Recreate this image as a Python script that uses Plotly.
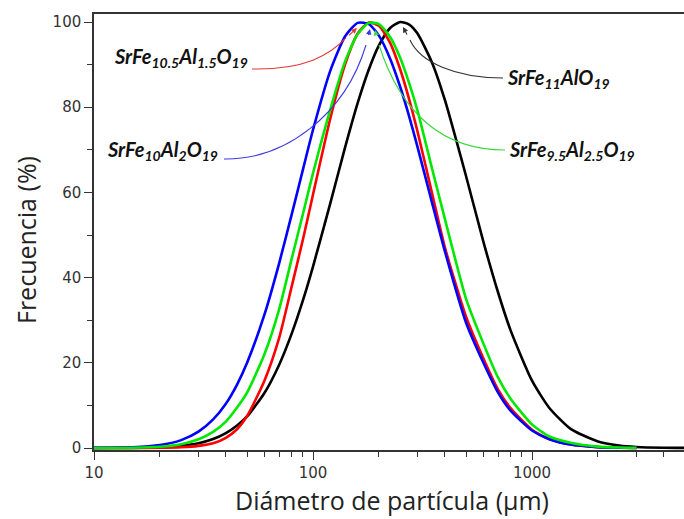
import plotly.graph_objects as go

# ---------------- data ----------------
diametro = [10, 15, 20, 25, 30, 35, 40, 45, 50, 60, 70, 80, 90, 100, 120, 140, 160, 180,
            200, 225, 250, 275, 300, 350, 400, 500, 600, 700, 800, 1000, 1200, 1500,
            2000, 2500, 3000, 4000, 5000]

frec_al1 = [0.0, 0.04, 0.17, 0.51, 1.12, 2.1, 3.5, 5.3, 7.4, 12.9, 19.5, 26.9, 34.7, 42.6,
            57.5, 70.5, 81.0, 88.9, 94.5, 98.6, 100.0, 99.4, 97.3, 90.4, 81.7, 63.8, 48.4,
            36.5, 27.5, 15.8, 9.4, 4.5, 1.53, 0.59, 0.25, 0.06, 0.015]          # SrFe11AlO19 (black)

frec_al15 = [0.0, 0.01, 0.05, 0.18, 0.5, 1.1, 2.4, 4.4, 7.5, 15.8, 25.8, 38.0, 49.0, 59.5,
             77.4, 90.0, 97.3, 99.9, 99.1, 95.1, 88.9, 81.8, 74.3, 59.7, 47.1, 30.8, 21.0,
             13.7, 9.3, 4.3, 2.1, 0.8, 0.2, 0.05, 0.0, None, None]             # SrFe10.5Al1.5O19 (red)

frec_al2 = [0.02, 0.16, 0.68, 1.85, 3.83, 6.7, 10.4, 14.9, 20.0, 31.3, 43.3, 54.9, 65.4, 74.7,
            88.6, 96.6, 99.8, 99.5, 96.8, 91.4, 84.8, 77.8, 70.7, 57.5, 46.2, 29.4, 20.0,
            13.0, 8.7, 4.1, 2.05, 0.81, 0.21, 0.07, 0.02, None, None]          # SrFe10Al2O19 (blue)

frec_al25 = [0.01, 0.06, 0.3, 0.9, 2.05, 3.8, 6.2, 9.5, 13.0, 22.0, 32.5, 44.5, 55.0, 64.5,
             79.5, 90.7, 97.2, 99.8, 99.5, 96.5, 91.6, 85.6, 79.2, 65.5, 53.8, 35.0, 24.5,
             16.5, 11.5, 5.5, 2.7, 1.25, 0.33, 0.1, 0.03, None, None]          # SrFe9.5Al2.5O19 (green)

x_ticks = [10, 100, 1000]
y_ticks = [0, 20, 40, 60, 80, 100]

labels = {
    "al15": "SrFe<sub>10.5</sub>Al<sub>1.5</sub>O<sub>19</sub>",
    "al2": "SrFe<sub>10</sub>Al<sub>2</sub>O<sub>19</sub>",
    "al1": "SrFe<sub>11</sub>AlO<sub>19</sub>",
    "al25": "SrFe<sub>9.5</sub>Al<sub>2.5</sub>O<sub>19</sub>",
}
x_title = "Diámetro de partícula (μm)"
y_title = "Frecuencia (%)"

# ---------------- figure ----------------
W, H = 684, 519
ML, MR, MT, MB = 94, 0, 14, 69
PW, PH = W - ML - MR, H - MT - MB

fig = go.Figure()
series = [
    ("al1", frec_al1, "#000000"),
    ("al15", frec_al15, "#ff0000"),
    ("al2", frec_al2, "#0000ff"),
    ("al25", frec_al25, "#00e800"),
]
for key, ys, col in series:
    fig.add_trace(go.Scatter(
        x=diametro, y=ys, mode="lines", name=key,
        line=dict(color=col, width=2.6, shape="spline", smoothing=0.6),
        connectgaps=False, showlegend=False, hoverinfo="skip"))


def pp(px, py):
    return (px - ML) / PW, (MT + PH - py) / PH


def path(points):
    (x0, y0), rest = points[0], points[1:]
    s = "M %.4f,%.4f C " % pp(x0, y0)
    s += " ".join("%.4f,%.4f" % pp(x, y) for x, y in rest)
    return s


connectors = [
    # (text key, text anchor px, connector bezier px, arrow tip px, colour)
    ("al15", (112, 58), [(252, 69), (305, 70), (330, 55), (346, 38)], (357, 28), "#e23a3a"),
    ("al2", (105, 150), [(224, 159), (285, 160), (345, 115), (366, 45)], (370, 29), "#3a3ae0"),
    ("al1", (505, 78), [(503, 78), (455, 78), (420, 62), (410, 40)], (403, 27), "#333333"),
    ("al25", (507, 151), [(505, 150), (440, 150), (400, 110), (379, 45)], (375, 30), "#3ad83a"),
]

shapes = []
annotations = []
for key, (tx, ty), pts, (ax_, ay_), col in connectors:
    shapes.append(dict(type="path", xref="paper", yref="paper", path=path(pts),
                       line=dict(color=col, width=1.1)))
    ex, ey = pts[-1]
    px_, py_ = pp(ax_, ay_)
    annotations.append(dict(x=px_, y=py_, xref="paper", yref="paper", text=" ",
                            showarrow=True, arrowhead=2, arrowsize=1.0, arrowwidth=1.1,
                            arrowcolor=col, ax=ex - ax_, ay=ey - ay_, standoff=0))
    lx, ly = pp(tx, ty)
    annotations.append(dict(x=lx, y=ly, xref="paper", yref="paper", text="<b><i>%s</i></b>" % labels[key],
                            showarrow=False, xanchor="left", yanchor="middle",
                            font=dict(family="Lato, Open Sans, sans-serif", size=20, color="#111111")))

title_font = dict(family="Open Sans, sans-serif", size=25, color="#222222")
gx, gy = pp(392, 500)
annotations.append(dict(x=gx, y=gy, xref="paper", yref="paper", text=x_title, showarrow=False,
                        xanchor="center", yanchor="middle", font=title_font))
gx, gy = pp(26, 240)
annotations.append(dict(x=gx, y=gy, xref="paper", yref="paper", text=y_title, showarrow=False,
                        textangle=-90, xanchor="center", yanchor="middle", font=title_font))

axis_col = "#333333"
tick_font = dict(family="DejaVu Sans, Verdana, sans-serif", size=15, color="#333333")

fig.update_layout(
    width=W, height=H,
    margin=dict(l=ML, r=MR, t=MT, b=MB, pad=0, autoexpand=False),
    paper_bgcolor="white", plot_bgcolor="white",
    shapes=shapes, annotations=annotations,
    xaxis=dict(
        type="log", range=[1, 3.694], automargin=False,
        tickmode="array", tickvals=x_ticks, ticktext=[str(v) for v in x_ticks],
        ticks="outside", ticklen=8, tickwidth=1.3, tickcolor=axis_col,
        minor=dict(ticks="outside", ticklen=5, tickwidth=1.1, tickcolor=axis_col,
                   tickmode="array",
                   tickvals=[m * d for d in (10, 100, 1000) for m in range(2, 10) if m * d <= 5000],
                   showgrid=False),
        showline=True, linecolor=axis_col, linewidth=1.5, mirror=True,
        showgrid=False, zeroline=False, tickfont=tick_font,
    ),
    yaxis=dict(
        range=[-0.47, 101.88], automargin=False,
        tickmode="array", tickvals=y_ticks,
        ticks="outside", ticklen=8, tickwidth=1.3, tickcolor=axis_col,
        minor=dict(ticks="outside", ticklen=5, tickwidth=1.1, tickcolor=axis_col,
                   tickmode="array", tickvals=[10, 30, 50, 70, 90], showgrid=False),
        showline=True, linecolor=axis_col, linewidth=1.5, mirror=False,
        showgrid=False, zeroline=False, tickfont=tick_font,
    ),
)

fig.write_html("out.html", config={"displayModeBar": False},
               post_script="document.body.style.margin='0px';document.body.style.overflow='hidden';")
